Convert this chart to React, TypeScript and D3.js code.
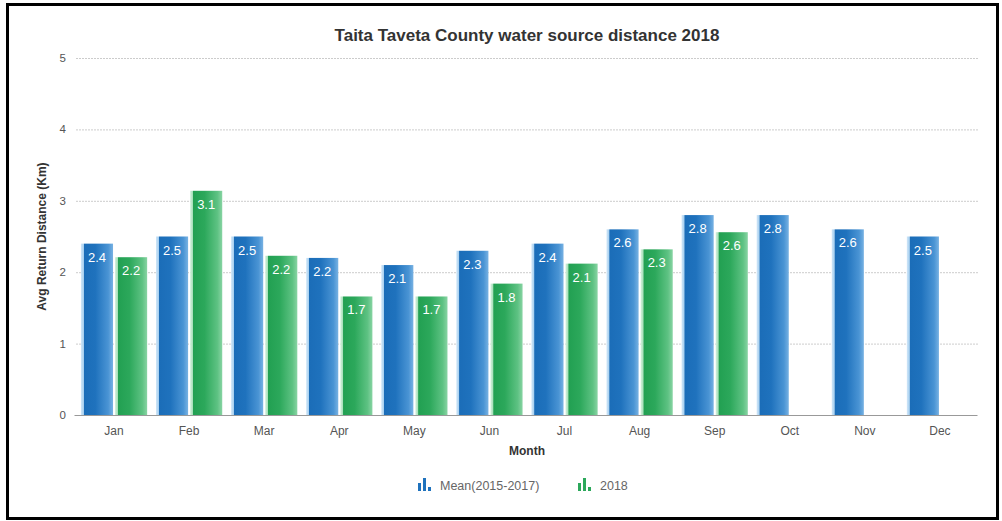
import React from "react";
import * as d3 from "d3";

const months = ["Jan", "Feb", "Mar", "Apr", "May", "Jun", "Jul", "Aug", "Sep", "Oct", "Nov", "Dec"];
const meanValues: (number | null)[] = [2.4, 2.5, 2.5, 2.2, 2.1, 2.3, 2.4, 2.6, 2.8, 2.8, 2.6, 2.5];
const values2018: (number | null)[] = [2.21, 3.14, 2.23, 1.66, 1.66, 1.84, 2.12, 2.32, 2.56, null, null, null];
const seriesNames = ["Mean(2015-2017)", "2018"];
const yTicks = [0, 1, 2, 3, 4, 5];

const W = 1002;
const H = 521;
const left = 76.5;
const right = 977.5;
const top = 58;
const bottom = 415;

export default function App() {
  const x = d3.scaleBand<string>().domain(months).range([left, right]).paddingInner(0).paddingOuter(0);
  const inner = d3.scaleBand<string>().domain(seriesNames).range([0, x.bandwidth()]).paddingInner(0.06).paddingOuter(0.13);
  const y = d3.scaleLinear().domain([0, 5]).range([bottom, top]);
  const fmt = d3.format(".1f");

  const series = [
    { name: seriesNames[0], vals: meanValues, grad: "gBlue" },
    { name: seriesNames[1], vals: values2018, grad: "gGreen" },
  ];

  const fontFam = "'Liberation Sans', Arial, Helvetica, sans-serif";

  return (
    <svg width={W} height={H} style={{ position: "absolute", left: 0, top: 0, fontFamily: fontFam }}>
      <defs>
        <linearGradient id="gBlue" x1="0" x2="1" y1="0" y2="0">
          <stop offset="0" stopColor="#cfe6f8" />
          <stop offset="0.08" stopColor="#a9d0ef" />
          <stop offset="0.1" stopColor="#1b6db8" />
          <stop offset="0.45" stopColor="#1f72bd" />
          <stop offset="0.85" stopColor="#4a94d4" />
          <stop offset="1" stopColor="#78b2e3" />
        </linearGradient>
        <linearGradient id="gGreen" x1="0" x2="1" y1="0" y2="0">
          <stop offset="0" stopColor="#d3f0dd" />
          <stop offset="0.08" stopColor="#a6dfb9" />
          <stop offset="0.1" stopColor="#22a052" />
          <stop offset="0.45" stopColor="#2ca85b" />
          <stop offset="0.85" stopColor="#5ec283" />
          <stop offset="1" stopColor="#88d4a3" />
        </linearGradient>
      </defs>
      <rect x={0} y={0} width={W} height={H} fill="#fff" />
      <rect x={7.5} y={4.5} width={990} height={514} fill="none" stroke="#000" strokeWidth={3} />

      <text x={527} y={41} textAnchor="middle" fontSize={17} fontWeight="bold" fill="#333">
        Taita Taveta County water source distance 2018
      </text>

      {yTicks.map((t) => (
        <g key={t}>
          {t > 0 && (
            <line x1={left} x2={right} y1={y(t) + 0.5} y2={y(t) + 0.5} stroke="#999" strokeWidth={1} strokeDasharray="1,2" />
          )}
          <text x={66} y={y(t) + 4} textAnchor="end" fontSize={11.5} fill="#555">
            {t}
          </text>
        </g>
      ))}

      {series.map((s) =>
        months.map((m, i) => {
          const v = s.vals[i];
          if (v == null) return null;
          const bx = (x(m) as number) + (inner(s.name) as number);
          const bw = inner.bandwidth();
          return (
            <g key={s.name + m}>
              <rect x={bx} y={y(v)} width={bw} height={bottom - y(v)} fill={`url(#${s.grad})`} />
              <text x={bx + bw / 2} y={y(v) + 18} textAnchor="middle" fontSize={13} fill="#fff">
                {fmt(v)}
              </text>
            </g>
          );
        })
      )}

      <line x1={left - 2} x2={right} y1={bottom + 0.5} y2={bottom + 0.5} stroke="#999" strokeWidth={1} />

      {months.map((m) => (
        <text key={m} x={(x(m) as number) + x.bandwidth() / 2} y={435} textAnchor="middle" fontSize={12} fill="#555">
          {m}
        </text>
      ))}

      <text x={527} y={455} textAnchor="middle" fontSize={12} fontWeight="bold" fill="#333">
        Month
      </text>
      <text transform="translate(46,236.5) rotate(-90)" textAnchor="middle" fontSize={12} fontWeight="bold" fill="#333">
        Avg Return Distance (Km)
      </text>

      {[
        { x: 418, color: "#1f72bd", label: seriesNames[0] },
        { x: 578, color: "#2ca85b", label: seriesNames[1] },
      ].map((l) => (
        <g key={l.label}>
          <rect x={l.x} y={483} width={3} height={8} fill={l.color} />
          <rect x={l.x + 5} y={478} width={3} height={13} fill={l.color} />
          <rect x={l.x + 10} y={487} width={3} height={4} fill={l.color} />
          <text x={l.x + 22} y={490} fontSize={12.5} fill="#666">
            {l.label}
          </text>
        </g>
      ))}
    </svg>
  );
}
